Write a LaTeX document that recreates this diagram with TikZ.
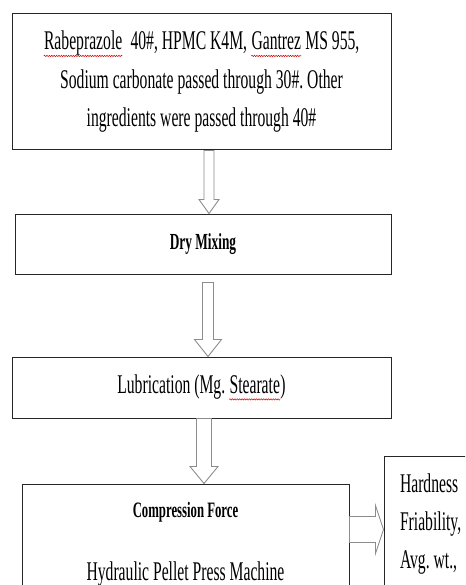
\documentclass[tikz,border=0pt]{standalone}
\usepackage{fontspec}
\setmainfont[FakeStretch=0.58]{Liberation Serif}
\usepackage{tikz}
\usetikzlibrary{positioning,calc,decorations.pathmorphing}
\frenchspacing
\tikzset{
  flow/stepbox/.style={draw=black!85, line width=1pt, align=center, inner sep=0pt,
    font=\fontsize{27}{38.5}\selectfont},
  flow/testbox/.style={draw=black!85, line width=1pt, align=flush left, text width=80pt,
    inner xsep=16pt, inner ysep=18pt, font=\fontsize{27}{38}\selectfont},
  flow/blockarrow/.style args={#1/#2/#3}{draw=black!45, line width=0.9pt,
    to path={
      ($(\tikztostart)!#1!90:(\tikztotarget)$)
      -- ($(\tikztotarget)!#3!(\tikztostart)!#1!90:(\tikztotarget)$)
      -- ($(\tikztotarget)!#3!(\tikztostart)!#2!90:(\tikztotarget)$)
      -- (\tikztotarget)
      -- ($(\tikztotarget)!#3!(\tikztostart)!#2!-90:(\tikztotarget)$)
      -- ($(\tikztotarget)!#3!(\tikztostart)!#1!-90:(\tikztotarget)$)
      -- ($(\tikztostart)!#1!-90:(\tikztotarget)$) -- cycle}}
}
% red spell-check wave under a word
\newcommand{\spellmark}[1]{\tikz[baseline=(sw.base)]{\node[draw=none, inner sep=0pt, minimum width=0pt,
    minimum height=0pt, text width=, align=none] (sw) {#1};
  \draw[red!85!black, line width=0.5pt, decorate, decoration={snake, amplitude=0.7pt, segment length=2.4pt}]
    ([yshift=-6pt]sw.base west) -- ([yshift=-6pt]sw.base east);}}

\begin{document}
\begin{tikzpicture}[x=1pt, y=1pt]
  \useasboundingbox (0,0) rectangle (465,-585);
  \clip (0,0) rectangle (465,-585);

  \node[flow/stepbox, minimum width=379pt, minimum height=136pt] (prep) at (201.5,-82)
    {\spellmark{Rabeprazole}~ 40\#, HPMC K4M, \spellmark{Gantrez} MS 955,\\
     Sodium carbonate passed through 30\#. Other\\
     ingredients were passed through 40\#};
  \node[flow/stepbox, minimum width=376pt, minimum height=60pt, below=63pt of prep, xshift=1.5pt] (mix)
    {\fontsize{23}{28}\selectfont\bfseries Dry Mixing};
  \node[flow/stepbox, minimum width=379pt, minimum height=61pt, below=82pt of mix, xshift=-1.5pt] (lub)
    {Lubrication (Mg. \spellmark{Stearate})};
  \node[flow/stepbox, minimum width=327pt, inner ysep=18pt, below=65pt of lub, xshift=-16pt,
    font=\fontsize{27}{33}\selectfont] (press)
    {{\fontsize{22}{22}\selectfont\bfseries Compression Force}\\[30pt]
     Hydraulic Pellet Press Machine};
  \node[flow/testbox, right=34pt of press.north east, anchor=north west, yshift=28pt] (tests)
    {Hardness\\ Friability,\\ Avg. wt.,};

  \draw[flow/blockarrow=5pt/10pt/14pt] ([xshift=7.5pt]prep.south) to ([xshift=6pt]mix.north);
  \draw[flow/blockarrow=5.5pt/13.5pt/17pt] ([xshift=5pt,yshift=-8pt]mix.south) to ([xshift=6.5pt]lub.north);
  \draw[flow/blockarrow=7.5pt/14pt/17pt] ([xshift=2.5pt]lub.south) to ([xshift=18.5pt]press.north);
  \draw[flow/blockarrow=13pt/24pt/8pt] ([yshift=-46pt]press.north east) to ([yshift=-74pt]tests.north west);
\end{tikzpicture}
\end{document}
